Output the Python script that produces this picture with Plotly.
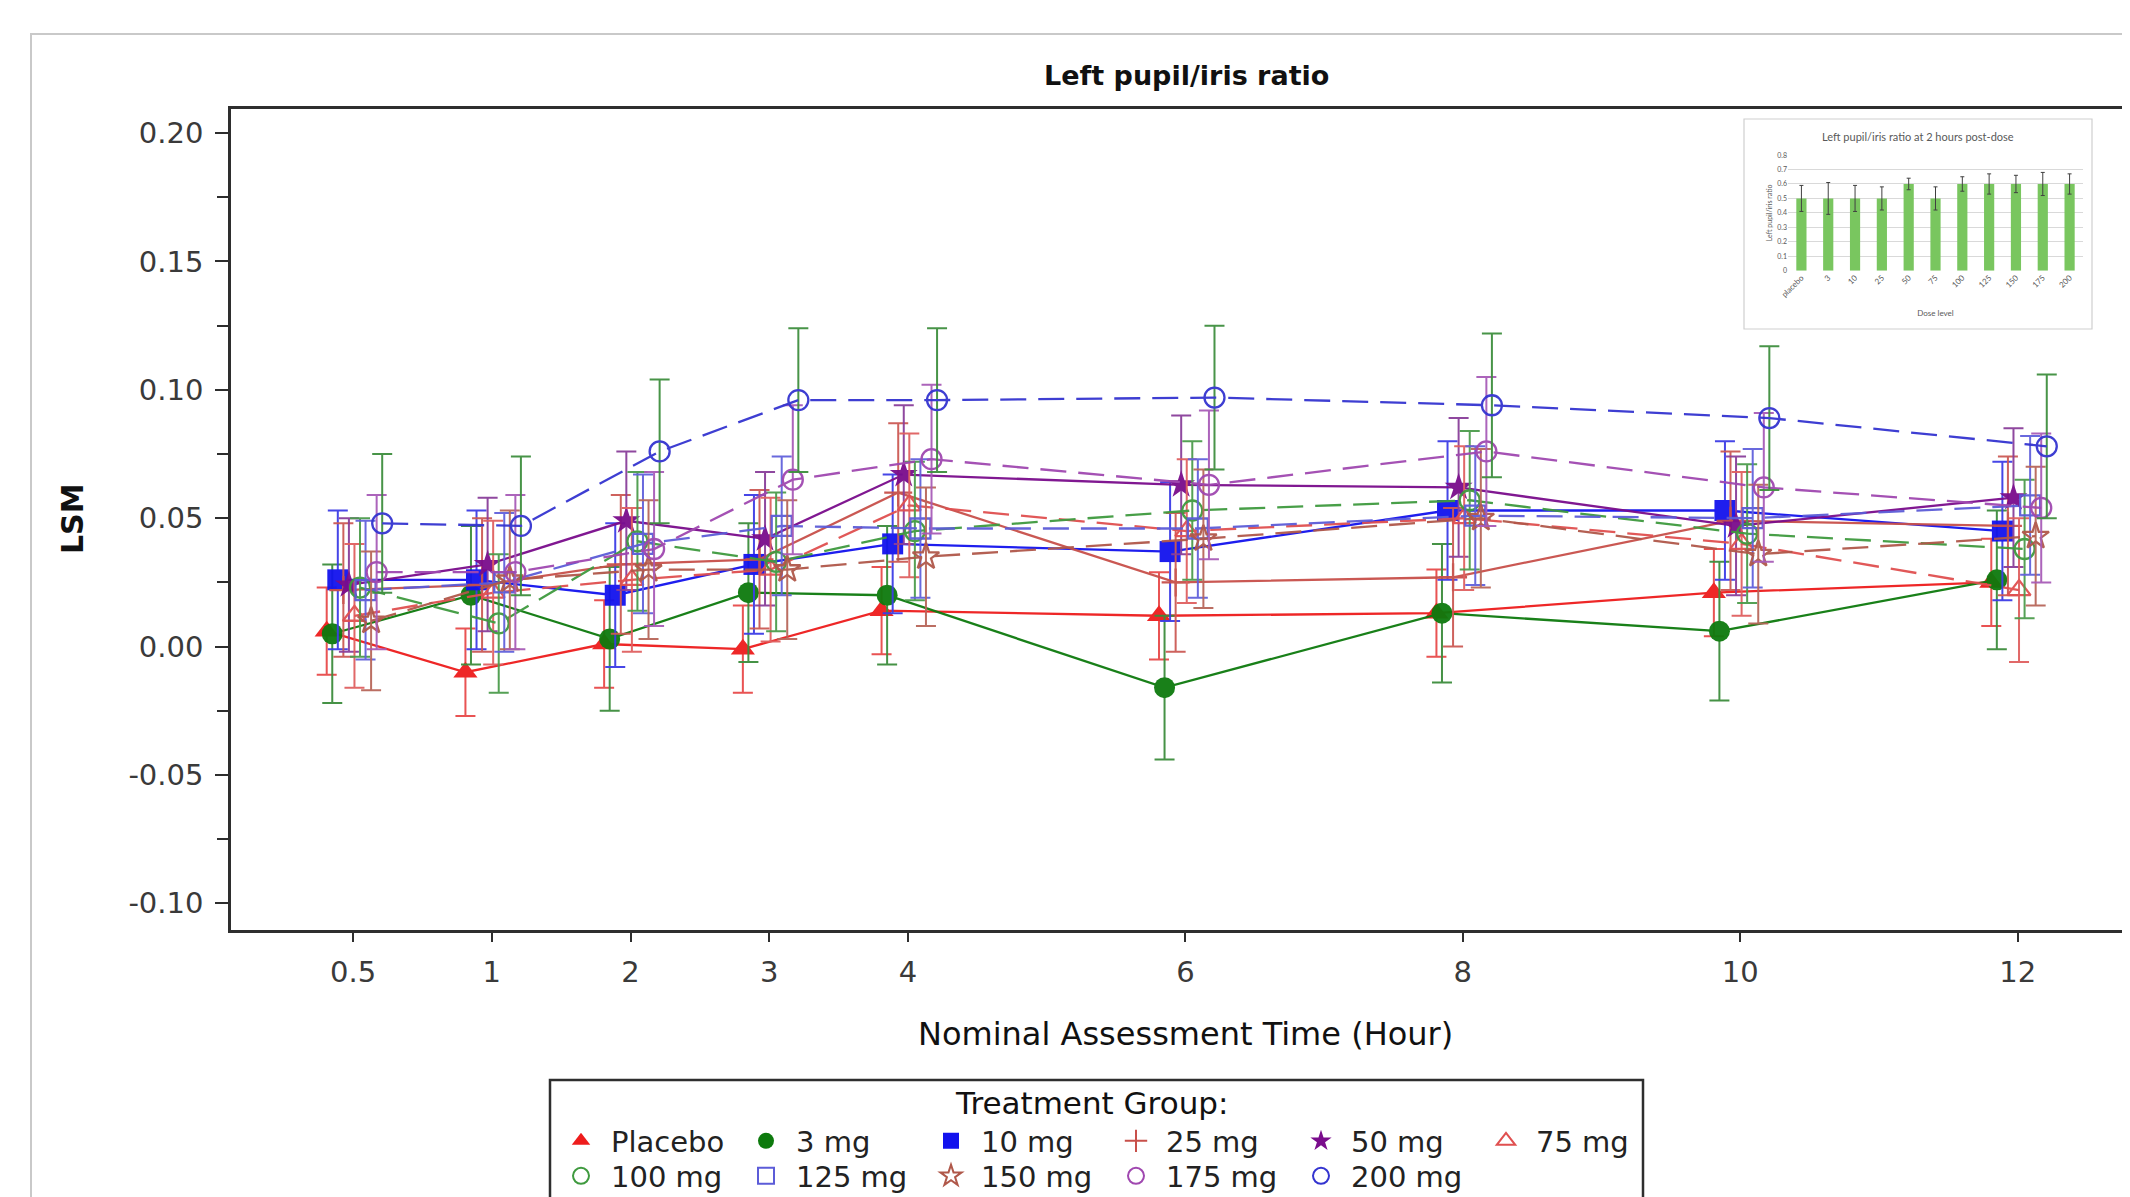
import plotly.graph_objects as go

# ---------------- data ----------------
hours = [0.5, 1, 2, 3, 4, 6, 8, 10, 12]
hour_labels = ["0.5", "1", "2", "3", "4", "6", "8", "10", "12"]
groups = ["Placebo", "3 mg", "10 mg", "25 mg", "50 mg", "75 mg",
          "100 mg", "125 mg", "150 mg", "175 mg", "200 mg"]

lsm_placebo = [0.006, -0.010, 0.001, -0.001, 0.014, 0.012, 0.013, 0.021, 0.025]
lsm_3mg = [0.005, 0.020, 0.003, 0.021, 0.020, -0.016, 0.013, 0.006, 0.026]
lsm_10mg = [0.026, 0.026, 0.020, 0.032, 0.040, 0.037, 0.053, 0.053, 0.045]
lsm_25mg = [0.022, 0.024, 0.032, 0.034, 0.060, 0.025, 0.027, 0.049, 0.047]
lsm_50mg = [0.024, 0.032, 0.049, 0.042, 0.067, 0.063, 0.062, 0.047, 0.058]
lsm_75mg = [0.012, 0.021, 0.026, 0.030, 0.055, 0.045, 0.050, 0.040, 0.022]
lsm_100mg = [0.023, 0.009, 0.041, 0.033, 0.045, 0.053, 0.057, 0.044, 0.038]
lsm_125mg = [0.022, 0.025, 0.040, 0.047, 0.046, 0.046, 0.051, 0.050, 0.055]
lsm_150mg = [0.010, 0.026, 0.030, 0.030, 0.035, 0.042, 0.050, 0.036, 0.043]
lsm_175mg = [0.029, 0.029, 0.038, 0.065, 0.073, 0.063, 0.076, 0.062, 0.054]
lsm_200mg = [0.048, 0.047, 0.076, 0.096, 0.096, 0.097, 0.094, 0.089, 0.078]

se_placebo = [0.017, 0.017, 0.017, 0.017, 0.017, 0.017, 0.017, 0.017, 0.017]
se_3mg = [0.027, 0.027, 0.028, 0.027, 0.027, 0.028, 0.027, 0.027, 0.027]
se_10mg = [0.027, 0.027, 0.028, 0.027, 0.027, 0.027, 0.027, 0.027, 0.027]
se_25mg = [0.026, 0.026, 0.027, 0.027, 0.027, 0.027, 0.027, 0.027, 0.027]
se_50mg = [0.026, 0.026, 0.027, 0.026, 0.027, 0.027, 0.027, 0.027, 0.027]
se_75mg = [0.028, 0.028, 0.028, 0.028, 0.028, 0.028, 0.028, 0.028, 0.028]
se_100mg = [0.027, 0.027, 0.027, 0.027, 0.027, 0.027, 0.027, 0.027, 0.027]
se_125mg = [0.027, 0.027, 0.027, 0.027, 0.027, 0.027, 0.027, 0.027, 0.027]
se_150mg = [0.027, 0.027, 0.027, 0.027, 0.027, 0.027, 0.027, 0.027, 0.027]
se_175mg = [0.030, 0.030, 0.030, 0.029, 0.029, 0.029, 0.029, 0.029, 0.029]
se_200mg = [0.027, 0.027, 0.028, 0.028, 0.028, 0.028, 0.028, 0.028, 0.028]

lsm_by_group = [lsm_placebo, lsm_3mg, lsm_10mg, lsm_25mg, lsm_50mg, lsm_75mg,
                lsm_100mg, lsm_125mg, lsm_150mg, lsm_175mg, lsm_200mg]
se_by_group = [se_placebo, se_3mg, se_10mg, se_25mg, se_50mg, se_75mg,
               se_100mg, se_125mg, se_150mg, se_175mg, se_200mg]

y_ticks = [-0.10, -0.05, 0.00, 0.05, 0.10, 0.15, 0.20]

# inset bar chart (2 hours post-dose)
dose_labels = ["placebo", "3", "10", "25", "50", "75", "100", "125", "150", "175", "200"]
ratio_2h = [0.5, 0.5, 0.5, 0.5, 0.6, 0.5, 0.6, 0.6, 0.6, 0.6, 0.6]
ratio_2h_err = [0.09, 0.11, 0.09, 0.08, 0.04, 0.08, 0.05, 0.07, 0.06, 0.08, 0.07]
inset_ticks = [0, 0.1, 0.2, 0.3, 0.4, 0.5, 0.6, 0.7, 0.8]

# ---------------- styles ----------------
DASH = "26px,12px"
STYLE = [
    dict(color="#ee1c1c", symbol="triangle-up", dash="solid", err="#e84a4a"),
    dict(color="#0d7a0d", symbol="circle", dash="solid", err="#3d8d3d"),
    dict(color="#1212ee", symbol="square", dash="solid", err="#3d3de6"),
    dict(color="#c8504a", symbol="cross-thin-open", dash="solid", err="#cc5a55"),
    dict(color="#7a0c8c", symbol="star", dash="solid", err="#8a3f9a"),
    dict(color="#e05050", symbol="triangle-up-open", dash=DASH, err="#e06060"),
    dict(color="#3f9a3f", symbol="circle-open", dash=DASH, err="#4c9c4c"),
    dict(color="#5c5cd8", symbol="square-open", dash=DASH, err="#6262dc"),
    dict(color="#b0584a", symbol="star-open", dash=DASH, err="#b8675a"),
    dict(color="#a048b0", symbol="circle-open", dash=DASH, err="#a85cb8"),
    dict(color="#3434d0", symbol="circle-open", dash=DASH, err="#3f8f3f"),
]

FONT = "DejaVu Sans, Arial, sans-serif"
INSET_FONT = "Lato, sans-serif"
OFF = 8                      # page margin of the html body
W, H = 2122, 1189
ML, MT = 223, 101
PLOT_BOTTOM = 922
PW = W - ML
PH = PLOT_BOTTOM - MT


def px(sx):
    return (sx - OFF - ML) / PW


def py(sy):
    return (PLOT_BOTTOM - (sy - OFF)) / PH


def axis_pos(h):
    # piecewise-linear nominal time axis (0.5 h gets its own slot)
    return h + 1 if h >= 1 else 2 * h


fig = go.Figure()

n = len(groups)
for i, (g, vals, errs) in enumerate(zip(groups, lsm_by_group, se_by_group)):
    st = STYLE[i]
    dodge = (i - (n - 1) / 2) * 0.04 + 0.01
    xs = [axis_pos(h) + dodge for h in hours]
    is_open = st["symbol"].endswith("open")
    fig.add_trace(go.Scatter(
        x=xs, y=vals, mode="lines+markers", name=g, showlegend=False,
        line=dict(color=st["color"], width=2.3, dash=st["dash"]),
        marker=dict(symbol=st["symbol"], size=21 if not is_open else 20,
                    color=st["color"],
                    line=dict(color=st["color"], width=2.3 if is_open else 0)),
        error_y=dict(type="data", array=errs, visible=True, color=st["err"],
                     thickness=2, width=10),
        opacity=0.95,
    ))

# legend entries (marker only)
for i, g in enumerate(groups):
    st = STYLE[i]
    is_open = st["symbol"].endswith("open")
    fig.add_trace(go.Scatter(
        x=[None], y=[None], mode="markers", name=g,
        legend="legend" if i < 6 else "legend2",
        marker=dict(symbol=st["symbol"], size=16, color=st["color"],
                    line=dict(color=st["color"], width=2 if is_open else 0)),
    ))

# inset bar chart
fig.add_trace(go.Bar(
    x=dose_labels, y=ratio_2h, xaxis="x2", yaxis="y2", showlegend=False,
    marker=dict(color="#79c65f", line=dict(width=0)), width=0.38,
    error_y=dict(type="data", array=ratio_2h_err, color="#404040",
                 thickness=1, width=2),
))

legend_common = dict(
    orientation="h", xanchor="left", yanchor="middle",
    font=dict(family=FONT, size=29, color="#222"),
    bgcolor="rgba(0,0,0,0)", borderwidth=0,
    itemwidth=50, entrywidth=120, entrywidthmode="pixels",
    traceorder="normal",
)

fig.update_layout(
    width=W, height=H,
    margin=dict(l=ML, r=0, t=MT, b=H - PLOT_BOTTOM, autoexpand=False),
    paper_bgcolor="white", plot_bgcolor="rgba(0,0,0,0)",
    font=dict(family=FONT, color="#333"),
    xaxis=dict(
        range=[0.12, 13.81], tickvals=[axis_pos(h) for h in hours],
        ticktext=hour_labels, showgrid=False, zeroline=False,
        showline=True, linecolor="#2e2e2e", linewidth=2.5, mirror=True,
        ticks="outside", ticklen=9, tickwidth=2, tickcolor="#2e2e2e",
        tickfont=dict(family=FONT, size=29, color="#3a3a3a"),
        ticklabelstandoff=5,
    ),
    yaxis=dict(
        range=[-0.1104, 0.2094], tickvals=y_ticks,
        ticktext=[f"{v:.2f}" for v in y_ticks],
        showgrid=False, zeroline=False, showline=True,
        linecolor="#2e2e2e", linewidth=2.5,
        ticks="outside", ticklen=13, tickwidth=2, tickcolor="#2e2e2e",
        minor=dict(tick0=0, dtick=0.025, ticks="outside", ticklen=11,
                   tickwidth=2, tickcolor="#2e2e2e"),
        tickfont=dict(family=FONT, size=29, color="#3a3a3a"),
        ticklabelstandoff=6,
    ),
    xaxis2=dict(
        domain=[px(1788), px(2083)], anchor="y2", type="category",
        showgrid=False, showline=False, zeroline=False, ticks="",
        tickangle=-45, tickfont=dict(family=INSET_FONT, size=8, color="#595959"),
        title=dict(text="Dose level", standoff=12,
                   font=dict(family=INSET_FONT, size=8, color="#595959")),
    ),
    yaxis2=dict(
        domain=[py(270.7), py(155)], anchor="x2", range=[0, 0.8005],
        tickvals=inset_ticks, ticktext=[f"{v:g}" for v in inset_ticks],
        showgrid=True, gridcolor="#d9d9d9", gridwidth=1, zeroline=False,
        showline=False, ticks="",
        tickfont=dict(family=INSET_FONT, size=7, color="#595959"),
        title=dict(text="Left pupil/iris ratio", standoff=3,
                   font=dict(family=INSET_FONT, size=7, color="#595959")),
    ),
    legend=dict(legend_common, x=px(551), y=py(1141)),
    legend2=dict(legend_common, x=px(551), y=py(1176)),
    bargap=0.6,
)

shapes = [
    # outer panel
    dict(type="rect", xref="paper", yref="paper", x0=px(31), y0=py(34),
         x1=1.2, y1=-0.6, line=dict(color="#c9c9c9", width=2), layer="below"),
    # inset frame
    dict(type="rect", xref="paper", yref="paper", x0=px(1744), y0=py(119),
         x1=px(2092), y1=py(329), line=dict(color="#cfcfcf", width=1.2),
         fillcolor="white", layer="below"),
    # legend frame
    dict(type="rect", xref="paper", yref="paper", x0=px(550), y0=py(1080),
         x1=px(1643), y1=-0.6, line=dict(color="#2e2e2e", width=2.5)),
]
fig.update_layout(shapes=shapes)

annotations = [
    dict(text="<b>Left pupil/iris ratio</b>", x=px(1186), y=py(75),
         xref="paper", yref="paper", showarrow=False, xanchor="center", yanchor="middle",
         font=dict(family=FONT, size=27, color="#111")),
    dict(text="Nominal Assessment Time (Hour)", x=px(1185), y=py(1034),
         xref="paper", yref="paper", showarrow=False, xanchor="center", yanchor="middle",
         font=dict(family=FONT, size=32, color="#111")),
    dict(text="<b>LSM</b>", x=px(72), y=py(519), textangle=-90,
         xref="paper", yref="paper", showarrow=False, xanchor="center", yanchor="middle",
         font=dict(family=FONT, size=30, color="#111")),
    dict(text="Treatment Group:", x=px(1091), y=py(1103),
         xref="paper", yref="paper", showarrow=False, xanchor="center", yanchor="middle",
         font=dict(family=FONT, size=31, color="#111")),
    dict(text="Left pupil/iris ratio at 2 hours post-dose", x=px(1918), y=py(136),
         xref="paper", yref="paper", showarrow=False, xanchor="center", yanchor="middle",
         font=dict(family=INSET_FONT, size=11, color="#595959")),
]
fig.update_layout(annotations=annotations)

fig.write_html("out.html")
